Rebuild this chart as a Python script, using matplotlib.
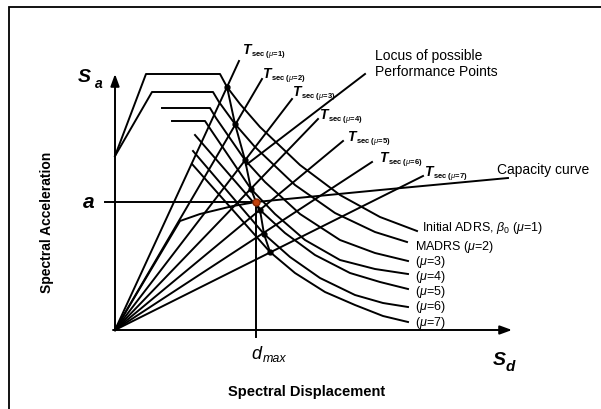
import matplotlib

matplotlib.use("Agg")
import matplotlib.pyplot as plt
from matplotlib.patches import Rectangle

plt.rcParams["font.family"] = ["Liberation Sans", "DejaVu Sans"]
plt.rcParams["mathtext.fontset"] = "custom"
plt.rcParams["mathtext.rm"] = "Liberation Sans"
plt.rcParams["mathtext.it"] = "Liberation Sans:italic"
plt.rcParams["mathtext.bf"] = "Liberation Sans:bold"

# schematic ADRS units: Sd to the right, Sa upwards, origin at the axes corner
sd_axis_end = 397
sa_axis_end = 256

demand_mu = [1, 2, 3, 4, 5, 6, 7]
demand_sd = [
    [0, 31, 105, 112, 125, 145, 185, 225, 265, 302],
    [0, 37, 98, 104, 120, 140, 180, 220, 260, 292],
    [47, 95, 101, 130, 150, 185, 225, 260, 293],
    [57, 90, 96, 136, 160, 190, 225, 260, 293],
    [80, 145, 170, 200, 235, 265, 293],
    [78, 149, 175, 205, 240, 268, 293],
    [77, 155, 180, 210, 240, 268, 293],
]
demand_sa = [
    [174, 256, 256, 243, 226, 203, 165, 135, 113, 99],
    [174, 238, 238, 228, 206, 183, 145, 117, 98, 88],
    [222, 222, 212, 170, 148, 116, 90, 77, 69],
    [209, 209, 200, 141, 116, 90, 70, 61, 56],
    [195, 120, 97, 75, 57, 48, 41],
    [179, 96, 73, 52, 35, 27, 23],
    [166, 78, 57, 38, 25, 14, 8],
]
demand_labels = [
    r"Initial ADRS, $\beta_0$ ($\mu$=1)",
    r"MADRS ($\mu$=2)",
    r"($\mu$=3)",
    r"($\mu$=4)",
    r"($\mu$=5)",
    r"($\mu$=6)",
    r"($\mu$=7)",
]
demand_label_sd = [307, 300, 300, 300, 300, 300, 300]
demand_label_sa = [103, 84, 69, 54, 39, 24, 8]

# secant period lines (from origin) and their labels
tsec_sd_end = [124, 147, 177, 203, 228, 257, 308]
tsec_sa_end = [269, 251, 231, 211, 189, 168, 154]
tsec_label_sd = [131, 151, 181, 208, 236, 268, 313]
tsec_label_sa = [281, 257, 239, 216, 194, 173, 159]

# capacity curve
capacity_sd = [0, 65, 85, 118, 141, 265, 393]
capacity_sa = [0, 109, 116, 124, 128, 140, 152]

# locus of possible performance points
locus_sd = [112, 120, 130, 136, 141, 145, 149, 155]
locus_sa = [243, 206, 170, 141, 128, 120, 96, 78]
trial_sd = [112, 120, 130, 136, 145, 149, 155]
trial_sa = [243, 206, 170, 141, 120, 96, 78]
locus_leader_sd = [131, 250]
locus_leader_sa = [165, 256]

perf_sd = 141
perf_sa = 128

LW = 1.4

fig = plt.figure(figsize=(6.01, 4.10), dpi=100)
ax = fig.add_axes([0, 0, 1, 1])
ax.set_xlim(-115, 486)
ax.set_ylim(-79, 331)
ax.axis("off")

# frame around the figure
fig.patches.append(
    Rectangle((9 / 601, -0.2), 1.2, 1.2 - 8 / 410, transform=fig.transFigure,
              fill=False, lw=1.3, ec="black")
)

# axes with arrows
arrow = dict(arrowstyle="-|>,head_length=0.6,head_width=0.22", lw=LW,
             color="black", mutation_scale=12, shrinkA=0, shrinkB=0)
ax.annotate("", xy=(0, sa_axis_end), xytext=(0, 0), arrowprops=arrow)
ax.annotate("", xy=(sd_axis_end, 0), xytext=(-2, 0), arrowprops=arrow)

# demand spectra
for sd, sa in zip(demand_sd, demand_sa):
    ax.plot(sd, sa, color="black", lw=LW, solid_joinstyle="round")

for text, x, y in zip(demand_labels, demand_label_sd, demand_label_sa):
    ax.text(x, y, text, fontsize=9, ha="left", va="center")

# secant period lines
for mu, x1, y1, lx, ly in zip(demand_mu, tsec_sd_end, tsec_sa_end,
                              tsec_label_sd, tsec_label_sa):
    ax.plot([0, x1], [0, y1], color="black", lw=LW)
    ax.text(lx, ly, "T", fontsize=10, fontstyle="italic", fontweight="bold",
            ha="center", va="center")
    ax.annotate(rf"sec ($\mu$={mu})", xy=(lx, ly), xytext=(3.5, -3),
                textcoords="offset points", fontsize=5.5, fontweight="bold",
                ha="left", va="center")

# capacity curve
ax.plot(capacity_sd, capacity_sa, color="black", lw=LW)
ax.text(382, 161, "Capacity curve", fontsize=10, ha="left", va="center")

# locus of performance points
ax.plot(locus_sd, locus_sa, color="black", lw=LW)
ax.plot(locus_leader_sd, locus_leader_sa, color="black", lw=LW)
ax.plot(trial_sd, trial_sa, "o", color="black", ms=3.5)
ax.text(260, 282, "Locus of possible\nPerformance Points", fontsize=10,
        ha="left", va="top", linespacing=1.15)

# performance point and its projections
ax.plot([-10, perf_sd], [perf_sa, perf_sa], color="black", lw=LW)
ax.plot([perf_sd, perf_sd], [perf_sa, -7], color="black", lw=LW)
ax.plot(perf_sd, perf_sa, "o", color="#c2410c", ms=5, mec="#8a2a05")

# axis symbols
ax.text(-31, 253, "S", fontsize=14, fontstyle="italic", fontweight="bold",
        ha="center", va="center")
ax.text(-20, 247, "a", fontsize=10, fontstyle="italic", fontweight="bold",
        ha="left", va="center")
ax.text(-26, perf_sa, "a", fontsize=15, fontstyle="italic", fontweight="bold",
        ha="center", va="center")
ax.text(perf_sd, -24, "d", fontsize=13, fontstyle="italic", ha="center",
        va="center")
ax.text(perf_sd + 7, -28, "max", fontsize=9, fontstyle="italic", ha="left",
        va="center")
ax.text(384, -30, "S", fontsize=14, fontstyle="italic", fontweight="bold",
        ha="center", va="center")
ax.text(391, -36, "d", fontsize=11, fontstyle="italic", fontweight="bold",
        ha="left", va="center")

ax.text(192, -61, "Spectral Displacement", fontsize=10.5, fontweight="bold",
        ha="center", va="center")
ax.text(-68, 109, "Spectral Acceleration", fontsize=10, fontweight="bold",
        rotation=90, ha="center", va="center")

fig.savefig("out.png", dpi=100)
